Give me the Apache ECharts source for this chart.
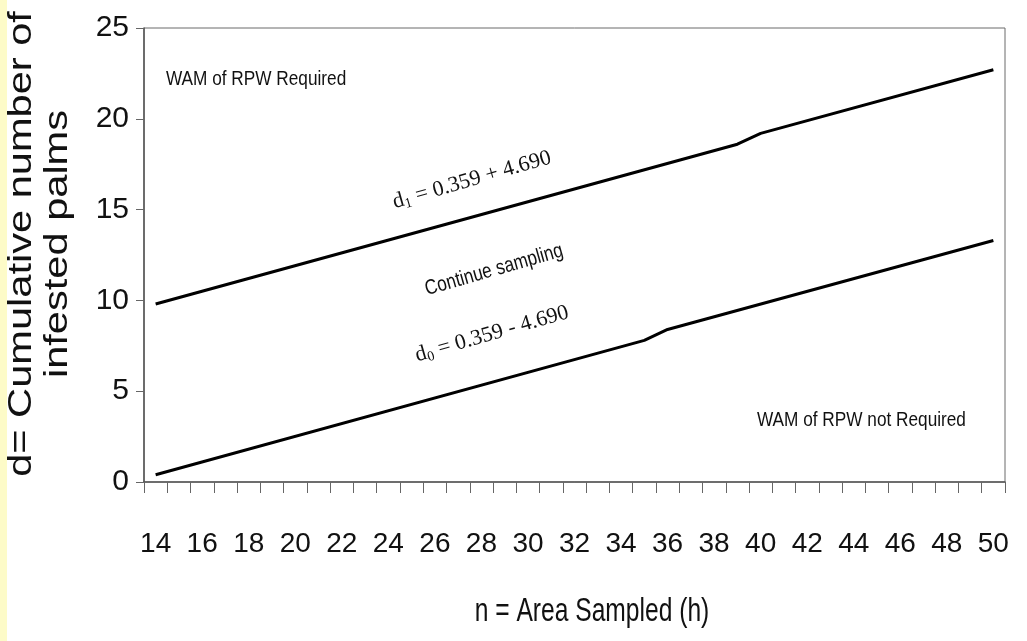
<!DOCTYPE html>
<html>
<head>
<meta charset="utf-8">
<script src="https://cdn.jsdelivr.net/npm/echarts@6/dist/echarts.min.js"></script>
<style>
html,body{margin:0;padding:0;background:#ffffff;}
#chart{width:1027px;height:641px;}
</style>
</head>
<body>
<div id="chart"></div>
<script>
// Data
var categories = ['14','15','16','17','18','19','20','21','22','23','24','25','26','27','28','29','30','31','32','33','34','35','36','37','38','39','40','41','42','43','44','45','46','47','48','49','50'];
// Upper boundary d1 (values read at the visible end points and bend)
var upperLine = [9.8,null,null,null,null,null,null,null,null,null,null,null,null,null,null,null,null,null,null,null,null,null,null,null,null,18.6,19.2,null,null,null,null,null,null,null,null,null,22.7];
// Lower boundary d0
var lowerLine = [0.4,null,null,null,null,null,null,null,null,null,null,null,null,null,null,null,null,null,null,null,null,7.8,8.4,null,null,null,null,null,null,null,null,null,null,null,null,null,13.3];
var yTicks = [0, 25, 5];
var xTitle = 'n = Area Sampled (h)';
var yTitle = 'd= Cumulative number of\ninfested palms';

var SANS = '"Liberation Sans",Arial,sans-serif';
var SERIF = '"Liberation Serif","Times New Roman",serif';
var NARROW_SCALE = 0.82;
var chart = echarts.init(document.getElementById('chart'), null, {renderer:'canvas'});
var rot = 16 * Math.PI / 180;
var eqRich = {
  d:{fontFamily:SERIF, fontSize:22, fill:'#111'},
  s:{fontFamily:SERIF, fontSize:14, fill:'#111', padding:[10,0,0,0]},
  t:{fontFamily:SERIF, fontSize:22, fill:'#111'}
};
chart.setOption({
  animation:false,
  backgroundColor:'#ffffff',
  grid:{left:144, right:22, top:28, bottom:159, containLabel:false, outerBoundsMode:'none',
        show:true, borderColor:'#6a6a6a', borderWidth:1},
  xAxis:{
    type:'category', data:categories, boundaryGap:true,
    axisLine:{lineStyle:{color:'#555', width:1.5}},
    axisTick:{show:true, interval:0, length:11, lineStyle:{color:'#666', width:1}},
    axisLabel:{interval:1, margin:48, fontFamily:SANS, fontSize:28, color:'#111'}
  },
  yAxis:{
    type:'value', min:yTicks[0], max:yTicks[1], interval:yTicks[2],
    splitLine:{show:false},
    axisLine:{show:true, lineStyle:{color:'#555', width:1.5}},
    axisTick:{show:true, length:8, lineStyle:{color:'#666', width:1}},
    axisLabel:{margin:15, fontFamily:SANS, fontSize:30, color:'#111'}
  },
  series:[
    {type:'line', data:upperLine, connectNulls:true, symbol:'none', lineStyle:{color:'#000', width:3}},
    {type:'line', data:lowerLine, connectNulls:true, symbol:'none', lineStyle:{color:'#000', width:3}}
  ],
  graphic:[
    {type:'rect', left:0, top:0, shape:{width:7, height:641}, style:{fill:'#fdfbc8'}, silent:true},
    // axis titles
    {type:'text', x:40, y:244, rotation:Math.PI/2, scaleX:1.26, scaleY:1,
      style:{text:yTitle, font:'33px ' + SANS, lineHeight:36, fill:'#111', align:'center', verticalAlign:'middle'}},
    {type:'text', x:592, y:612, scaleX:NARROW_SCALE, scaleY:1.1,
      style:{text:xTitle, font:'30px ' + SANS, fill:'#111', align:'center', verticalAlign:'middle'}},
    // region labels
    {type:'text', x:166, y:79, scaleX:NARROW_SCALE,
      style:{text:'WAM of RPW Required', font:'21px ' + SANS, fill:'#111', align:'left', verticalAlign:'middle'}},
    {type:'text', x:757, y:420, scaleX:NARROW_SCALE,
      style:{text:'WAM of RPW not Required', font:'21px ' + SANS, fill:'#111', align:'left', verticalAlign:'middle'}},
    {type:'text', x:494, y:270, rotation:rot, scaleX:NARROW_SCALE,
      style:{text:'Continue sampling', font:'21px ' + SANS, fill:'#111', align:'center', verticalAlign:'middle'}},
    {type:'text', x:472, y:180, rotation:rot,
      style:{text:'{d|d}{s|1}{t| = 0.359 + 4.690}', align:'center', verticalAlign:'middle', fill:'#111', rich:eqRich}},
    {type:'text', x:492, y:334, rotation:rot,
      style:{text:'{d|d}{s|0}{t| = 0.359 - 4.690}', align:'center', verticalAlign:'middle', fill:'#111', rich:eqRich}}
  ]
});
</script>
</body>
</html>
